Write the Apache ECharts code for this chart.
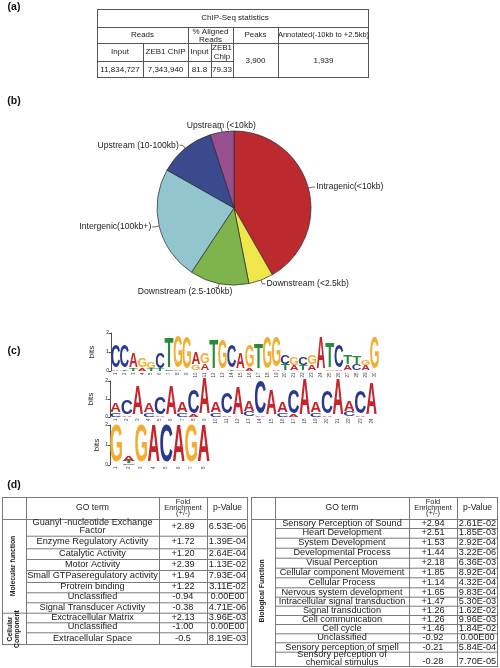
<!DOCTYPE html>
<html><head><meta charset="utf-8">
<script src="https://cdn.jsdelivr.net/npm/echarts/dist/echarts.min.js"></script>
<style>html,body{margin:0;padding:0;background:#fff}#c{width:500px;height:668px}</style>
</head><body><div id="c"></div>
<script>
// ---------- (a) ChIP-Seq statistics ----------
const statsTitle = 'ChIP-Seq statistics';
const statsHead = ['Reads', '% Aligned\nReads', 'Peaks', 'Annotated(-10kb to +2.5kb)'];
const statsSub = ['Input', 'ZEB1 ChIP', 'Input', 'ZEB1\nChlp'];
const statsVals = ['11,834,727', '7,343,940', '81.8', '79.33'];
const statsPeaks = '3,900';
const statsAnnot = '1,939';

// ---------- (b) peak distribution pie ----------
const pieNames = ['Intragenic(<10kb)', 'Downstream (<2.5kb)', 'Downstream (2.5-100kb)', 'Intergenic(100kb+)', 'Upstream (10-100kb)', 'Upstream (<10kb)'];
const pieValues = [41.7, 5.2, 12.4, 23.9, 11.8, 5.0];
const pieColors = ['#BC2A30', '#EFE64B', '#7FB44C', '#93C5CF', '#3B4A8D', '#974F90'];

// ---------- (c) motifs (stacks bottom -> top) ----------
const motif1Pos = ['1','2','3','4','5','6','7','8','9','10','11','12','13','14','15','16','17','18','19','20','21','22','23','24','25','26','27','28','29','30'];
const motif1Low = ['A','T','T','A','T','T','C','A','','G','A','','','T','G','A','','','A','T','A','T','A','','G','A','A','C','A',''];
const motif1LowBits = [0.08,0.08,0.12,0.15,0.12,0.1,0.06,0.05,0,0.3,0.35,0,0,0.08,0.08,0.1,0,0,0.08,0.35,0.3,0.3,0.3,0,0.06,0.08,0.3,0.35,0.3,0];
const motif1Top = ['C','C','A','G','G','C','T','G','G','A','G','T','G','C','A','G','T','G','G','C','G','C','G','A','T','C','T','T','G','G'];
const motif1TopBits = [1.2,1.2,0.75,0.5,0.35,0.8,1.6,1.7,1.7,0.6,0.55,1.55,1.55,1.15,0.85,1.15,1.35,1.7,1.6,0.45,0.4,0.4,0.45,1.7,1.3,1.15,0.45,0.4,0.3,1.7];

const motif2Pos = ['1','2','3','4','5','6','7','8','9','10','11','12','13','14','15','16','17','18','19','20','21','22','23','24'];
const motif2Low = ['C','A','','C','A','','C','A','','C','A','','C','A','','C','A','','C','A','','C','A',''];
const motif2LowBits = [0.22,0.1,0,0.22,0.1,0,0.25,0.12,0,0.25,0.1,0,0.29,0.06,0,0.25,0.12,0,0.25,0.1,0,0.29,0.1,0];
const motif2Top = ['A','C','A','A','C','A','A','C','A','A','C','A','A','C','A','A','C','A','A','C','A','A','C','A'];
const motif2TopBits = [0.5,0.78,1.62,0.5,0.95,1.62,0.55,1.3,1.98,0.55,1.15,1.52,0.6,1.85,1.42,0.55,1.3,1.95,0.55,1.25,1.95,0.6,1.25,1.75];

const motif3Pos = ['1','2','3','4','5','6','7','8'];
const motif3Low = ['','C','','','','','',''];
const motif3LowBits = [0,0.08,0,0,0,0,0,0];
const motif3Mid = ['','T','','','','','',''];
const motif3MidBits = [0,0.1,0,0,0,0,0,0];
const motif3Top = ['G','A','G','A','C','A','G','A'];
const motif3TopBits = [1.85,0.28,1.85,1.85,1.85,1.85,1.85,1.85];

// ---------- (d) GO enrichment tables ----------
const mfTerms = ['Guanyl -nucleotide Exchange\nFactor', 'Enzyme Regulatory Activity', 'Catalytic Activity', 'Motor Activity', 'Small GTPaseregulatory activity', 'Protrein binding', 'Unclassified', 'Signal Transducer Activity'];
const mfFold = ['+2.89', '+1.72', '+1.20', '+2.39', '+1.94', '+1.22', '-0.94', '-0.38'];
const mfP = ['6.53E-06', '1.39E-04', '2.64E-04', '1.13E-02', '7.93E-04', '3.11E-02', '0.00E00', '4.71E-06'];
const ccTerms = ['Exctracellular Matrix', 'Unclassified', 'Extracellular Space'];
const ccFold = ['+2.13', '-1.00', '-0.5'];
const ccP = ['3.96E-03', '0.00E00', '8.19E-03'];
const bfTerms = ['Sensory Perception of Sound', 'Heart Development', 'System Development', 'Developmental Process', 'Visual Perception', 'Cellular component Movement', 'Cellular Process', 'Nervous system development', 'Intracellular signal transduction', 'Signal transduction', 'Cell communication', 'Cell cycle', 'Unclassified', 'Sensory perception of smell', 'Sensory perception of\nchemical stimulus'];
const bfFold = ['+2.94', '+2.51', '+1.53', '+1.44', '+2.18', '+1.85', '+1.14', '+1.65', '+1.47', '+1.26', '+1.26', '+1.46', '-0.92', '-0.21', '-0.28'];
const bfP = ['2.61E-02', '1.85E-03', '2.92E-04', '3.22E-06', '6.36E-03', '8.92E-04', '4.32E-04', '9.83E-04', '5.30E-03', '1.62E-02', '9.96E-03', '1.84E-02', '0.00E00', '5.84E-04', '7.70E-05'];
const goHead = ['GO term', 'Fold\nEnrichment\n(+/-)', 'p-Value'];
const groupNames = ['Molecular function', 'Cellular\nComponent', 'Biological Function'];
const panelTags = ['(a)', '(b)', '(c)', '(d)'];

// ================= drawing =================
const FONT = '"Liberation Sans", Arial, sans-serif';
const els = [];
function txt(x, y, s, size, o) {
  o = o || {};
  els.push({
    type: 'text', x: x, y: y, rotation: o.rot || 0, silent: true,
    style: {
      text: s, font: (o.bold ? 'bold ' : '') + size + 'px ' + FONT, fill: o.color || '#1a1a1a',
      align: o.align || 'center', textAlign: o.align || 'center',
      verticalAlign: 'middle', textVerticalAlign: 'middle', lineHeight: o.lh || size
    }
  });
}
function ln(x1, y1, x2, y2, c, w) {
  els.push({ type: 'line', silent: true, shape: { x1: x1, y1: y1, x2: x2, y2: y2 }, style: { stroke: c, lineWidth: w || 1 } });
}

// panel tags
[[14, 7], [14, 101], [14, 351], [14, 485]].forEach((p, i) => txt(p[0], p[1], panelTags[i], 10.5, { bold: true, color: '#111' }));

// table (a)
(function () {
  const c = '#555';
  const X = [97, 143, 188, 211, 233, 278, 369];
  const Y = [9, 27, 43, 61, 78];
  ln(X[0], Y[0] + .5, X[6], Y[0] + .5, c); ln(X[0], Y[4] - .5, X[6], Y[4] - .5, c);
  ln(X[0] + .5, Y[0], X[0] + .5, Y[4], c); ln(X[6] - .5, Y[0], X[6] - .5, Y[4], c);
  ln(X[0], Y[1] + .5, X[6], Y[1] + .5, c); ln(X[0], Y[2] + .5, X[6], Y[2] + .5, c);
  ln(X[0], Y[3] + .5, X[4], Y[3] + .5, c);
  ln(X[1] + .5, Y[2], X[1] + .5, Y[4], c);
  ln(X[2] + .5, Y[1], X[2] + .5, Y[4], c);
  ln(X[3] + .5, Y[2], X[3] + .5, Y[4], c);
  ln(X[4] + .5, Y[1], X[4] + .5, Y[4], c);
  ln(X[5] + .5, Y[1], X[5] + .5, Y[4], c);
  const fs = 8;
  txt(235, 18, statsTitle, fs);
  txt((X[0] + X[2]) / 2, 35, statsHead[0], fs);
  txt((X[2] + X[4]) / 2, 35.5, statsHead[1], fs, { lh: 7.8 });
  txt((X[4] + X[5]) / 2, 35, statsHead[2], fs);
  txt((X[5] + X[6]) / 2, 35, statsHead[3], 7.5);
  for (let i = 0; i < 4; i++) {
    const cx = (X[i] + X[i + 1]) / 2;
    txt(cx, 52, statsSub[i], fs, { lh: 8.6 });
    txt(cx, 69.5, statsVals[i], fs);
  }
  txt((X[4] + X[5]) / 2, 61, statsPeaks, fs);
  txt((X[5] + X[6]) / 2, 61, statsAnnot, fs);
})();

// tables (d)
(function () {
  const c = '#7a7a7a';
  const fs = 9.2;
  const hs = 7.4;
  // left table
  const LX = [2, 26, 159, 207, 248];
  const LY = [497, 519, 535.7, 548.3, 559, 570, 582, 592.3, 602.3, 612.7, 622.3, 632.3, 645];
  ln(LX[0], LY[0] + .5, LX[4], LY[0] + .5, c);
  ln(LX[0], LY[12] - .5, LX[4], LY[12] - .5, c);
  ln(LX[0], LY[1] + .5, LX[4], LY[1] + .5, c);
  ln(LX[0], LY[9] + .5, LX[4], LY[9] + .5, c);
  for (let k = 2; k < 12; k++) if (k !== 9) ln(LX[1], LY[k] + .5, LX[4], LY[k] + .5, c);
  LX.forEach((x, i) => ln(x + (i === 4 ? -.5 : .5), LY[0], x + (i === 4 ? -.5 : .5), LY[12], c));
  txt((LX[1] + LX[2]) / 2, 508, goHead[0], 8.6);
  txt((LX[2] + LX[3]) / 2, 507.5, goHead[1], hs, { lh: 5.8 });
  txt((LX[3] + LX[4]) / 2, 508, goHead[2], 8.6);
  const lTerms = mfTerms.concat(ccTerms), lFold = mfFold.concat(ccFold), lP = mfP.concat(ccP);
  lTerms.forEach((t, i) => {
    const cy = (LY[i + 1] + LY[i + 2]) / 2 - 0.5;
    txt((LX[1] + LX[2]) / 2, cy, t, fs, { lh: 7.8 });
    txt((LX[2] + LX[3]) / 2, cy, lFold[i], fs);
    txt((LX[3] + LX[4]) / 2, cy, lP[i], fs);
  });
  txt(13, 566, groupNames[0], 6.8, { bold: true, rot: Math.PI / 2 });
  txt(14, 629, groupNames[1], 6.8, { bold: true, rot: Math.PI / 2, lh: 7 });

  // right table
  const RX = [251, 275, 409, 457, 498];
  const RY = [497, 519, 528, 537.7, 547.7, 557.7, 567.7, 577.3, 587.3, 596.7, 605.7, 615, 624, 633.3, 642.3, 651.7, 667];
  ln(RX[0], RY[0] + .5, RX[4], RY[0] + .5, c);
  ln(RX[0], RY[16] - .5, RX[4], RY[16] - .5, c);
  ln(RX[0], RY[1] + .5, RX[4], RY[1] + .5, c);
  for (let k = 2; k < 16; k++) ln(RX[1], RY[k] + .5, RX[4], RY[k] + .5, c);
  RX.forEach((x, i) => ln(x + (i === 4 ? -.5 : .5), RY[0], x + (i === 4 ? -.5 : .5), RY[16], c));
  txt((RX[1] + RX[2]) / 2, 508, goHead[0], 8.6);
  txt((RX[2] + RX[3]) / 2, 507.5, goHead[1], hs, { lh: 5.8 });
  txt((RX[3] + RX[4]) / 2, 508, goHead[2], 8.6);
  bfTerms.forEach((t, i) => {
    const last = i === bfTerms.length - 1;
    const cy = (RY[i + 1] + RY[i + 2]) / 2;
    txt((RX[1] + RX[2]) / 2, last ? 658.5 : cy, t, fs, { lh: 8 });
    txt((RX[2] + RX[3]) / 2, last ? 661.7 : cy, bfFold[i], fs);
    txt((RX[3] + RX[4]) / 2, last ? 661.7 : cy, bfP[i], fs);
  });
  txt(262, 591, groupNames[2], 6.8, { bold: true, rot: Math.PI / 2 });
})();

// motif letters
const letterColor = { A: '#C7232B', C: '#28398F', G: '#F2AE31', T: '#2A8A3C' };
const inkW = { A: 0.70, C: 0.64, G: 0.69, T: 0.58 };
function makeRender(levels) {
  return function (params, api) {
    const i = params.dataIndex;
    const bw = api.size([1, 0])[0];
    let acc = 0;
    const children = [];
    levels.forEach(function (lv) {
      const ch = lv[0][i], b = lv[1][i];
      if (!ch || !b) return;
      const pBot = api.coord([i, acc]);
      const pTop = api.coord([i, acc + b]);
      acc += b;
      const h = pBot[1] - pTop[1];
      if (h < 0.3) return;
      const S = 100;
      const sy = h / (0.716 * S);
      const sx = bw * 0.96 / (inkW[ch] * S);
      children.push({
        type: 'text', x: pBot[0], y: (pBot[1] + pTop[1]) / 2 + 0.0115 * S * sy, scaleX: sx, scaleY: sy,
        style: { text: ch, font: 'bold 100px "Liberation Sans"', fill: letterColor[ch], align: 'center', textAlign: 'center', verticalAlign: 'middle', textVerticalAlign: 'middle' }
      });
    });
    return { type: 'group', children: children };
  };
}
function totals(levels, n) {
  const out = [];
  for (let i = 0; i < n; i++) { let s = 0; levels.forEach(lv => s += lv[1][i] || 0); out.push([i, s]); }
  return out;
}
const m1Levels = [[motif1Low, motif1LowBits], [motif1Top, motif1TopBits]];
const m2Levels = [[motif2Low, motif2LowBits], [motif2Top, motif2TopBits]];
const m3Levels = [[motif3Low, motif3LowBits], [motif3Mid, motif3MidBits], [motif3Top, motif3TopBits]];

const grids = [
  { left: 111, top: 333, width: 268, height: 38 },
  { left: 110, top: 381, width: 267, height: 36 },
  { left: 110, top: 425, width: 100, height: 40 }
];
function xAx(idx, cats) {
  return {
    type: 'category', gridIndex: idx, data: cats, boundaryGap: true,
    axisLine: { show: false }, axisTick: { show: false }, splitLine: { show: false },
    axisLabel: { rotate: 90, fontSize: 4.5, margin: 1.5, color: '#444', interval: 0, fontFamily: FONT }
  };
}
function yAx(idx) {
  return {
    type: 'value', gridIndex: idx, min: 0, max: 2, interval: 1,
    name: 'bits', nameLocation: 'middle', nameGap: 9, nameRotate: 90,
    nameTextStyle: { fontSize: 8, color: '#222', fontFamily: FONT },
    axisLine: { show: true, lineStyle: { color: '#222', width: 0.8 } },
    axisTick: { show: true, length: 2, lineStyle: { color: '#222', width: 0.8 } },
    axisLabel: { fontSize: 5, margin: 2, color: '#222', fontFamily: FONT },
    splitLine: { show: false }
  };
}

const option = {
  animation: false,
  backgroundColor: '#ffffff',
  grid: grids,
  xAxis: [xAx(0, motif1Pos), xAx(1, motif2Pos), xAx(2, motif3Pos)],
  yAxis: [yAx(0), yAx(1), yAx(2)],
  graphic: { elements: els },
  series: [
    {
      type: 'pie', center: [234, 208], radius: 77, startAngle: 90, clockwise: true,
      avoidLabelOverlap: false,
      data: pieNames.map((n, i) => ({ name: n, value: pieValues[i], itemStyle: { color: pieColors[i] } })),
      itemStyle: { borderColor: '#2a2a2a', borderWidth: 0.7 },
      label: { show: true, position: 'outside', fontSize: 8.6, color: '#222', fontFamily: FONT, formatter: '{b}', distanceToLabelLine: 1 },
      labelLine: { show: true, length: 4, length2: 3, lineStyle: { color: '#444', width: 0.8 } },
      labelLayout: function (p) {
        if (p.dataIndex === 5) return { align: 'center', verticalAlign: 'bottom', dy: 2, dx: 4 };
        if (p.dataIndex === 2) return { dx: 18, dy: 4 };
        return {};
      },
      emphasis: { disabled: true }
    },
    { type: 'custom', coordinateSystem: 'cartesian2d', xAxisIndex: 0, yAxisIndex: 0, data: totals(m1Levels, motif1Top.length), renderItem: makeRender(m1Levels), clip: false },
    { type: 'custom', coordinateSystem: 'cartesian2d', xAxisIndex: 1, yAxisIndex: 1, data: totals(m2Levels, motif2Top.length), renderItem: makeRender(m2Levels), clip: false },
    { type: 'custom', coordinateSystem: 'cartesian2d', xAxisIndex: 2, yAxisIndex: 2, data: totals(m3Levels, motif3Top.length), renderItem: makeRender(m3Levels), clip: false }
  ]
};
const chart = echarts.init(document.getElementById('c'), null, { renderer: 'canvas' });
chart.setOption(option);
</script>
</body></html>
